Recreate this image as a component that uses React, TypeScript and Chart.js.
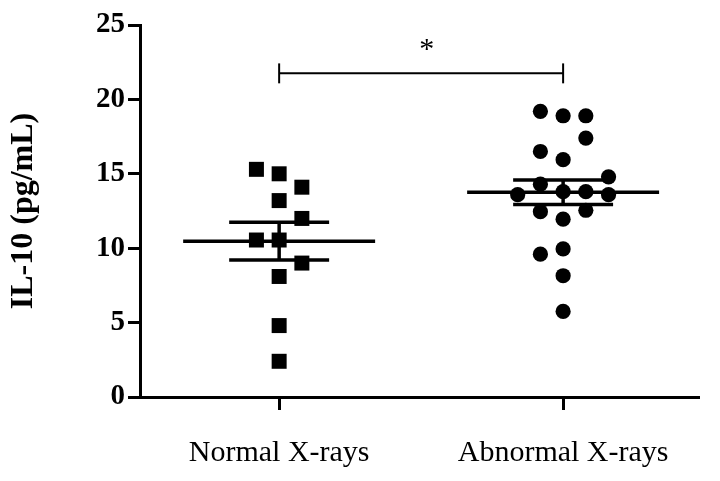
import React, { useEffect, useRef } from "react";
import { Chart, registerables } from "chart.js";

Chart.register(...registerables);

const categories = ["Normal X-rays", "Abnormal X-rays"];
const normalValues = [15.3, 15.0, 14.1, 13.2, 12.0, 10.55, 10.55, 9.0, 8.1, 4.8, 2.4];
const normalColumns = [-1, 0, 1, 0, 1, -1, 0, 1, 0, 0, 0];
const abnormalValues = [19.2, 18.9, 18.9, 17.4, 16.5, 15.95, 14.8, 14.3, 13.6, 13.8, 13.8, 13.6, 12.45, 11.95, 12.55, 9.6, 9.95, 8.15, 5.75];
const abnormalColumns = [-1, 0, 1, 1, -1, 0, 2, -1, -2, 0, 1, 2, -1, 0, 1, -1, 0, 0, 0];
const groupMeans = [10.47, 13.76];
const groupSems = [1.27, 0.83];
const yTicks = [0, 5, 10, 15, 20, 25];
const bracketValue = 21.75;
const significanceLabel = "*";
const yTitle = "IL-10 (pg/mL)";

const COL_STEP = 0.08;
const MEAN_HALF = 0.338;
const CAP_HALF = 0.176;
const BRACKET_TICK = 0.67;

function lineDs(points: { x: number; y: number }[], width: number) {
  return {
    type: "line" as const,
    data: points,
    showLine: true,
    borderColor: "#000",
    backgroundColor: "#000",
    borderWidth: width,
    pointRadius: 0,
    fill: false,
    tension: 0,
    clip: false as any,
  };
}

export default function App() {
  const ref = useRef<HTMLCanvasElement | null>(null);

  useEffect(() => {
    document.body.style.margin = "0";
    const canvas = ref.current;
    if (!canvas) return;

    const datasets: any[] = [];
    datasets.push({
      type: "scatter",
      data: normalValues.map((v, i) => ({ x: 1 + normalColumns[i] * COL_STEP, y: v })),
      pointStyle: "rect",
      pointRadius: 10.6,
      backgroundColor: "#000",
      borderColor: "#000",
      borderWidth: 0,
    });
    datasets.push({
      type: "scatter",
      data: abnormalValues.map((v, i) => ({ x: 2 + abnormalColumns[i] * COL_STEP, y: v })),
      pointStyle: "circle",
      pointRadius: 7.6,
      backgroundColor: "#000",
      borderColor: "#000",
      borderWidth: 0,
    });
    groupMeans.forEach((m, g) => {
      const x = g + 1;
      const s = groupSems[g];
      datasets.push(lineDs([{ x: x - MEAN_HALF, y: m }, { x: x + MEAN_HALF, y: m }], 3.5));
      datasets.push(lineDs([{ x: x - CAP_HALF, y: m + s }, { x: x + CAP_HALF, y: m + s }], 3.5));
      datasets.push(lineDs([{ x: x - CAP_HALF, y: m - s }, { x: x + CAP_HALF, y: m - s }], 3.5));
      datasets.push(lineDs([{ x, y: m - s }, { x, y: m + s }], 3.5));
    });
    datasets.push(lineDs([{ x: 1, y: bracketValue }, { x: 2, y: bracketValue }], 2));
    datasets.push(lineDs([{ x: 1, y: bracketValue - BRACKET_TICK }, { x: 1, y: bracketValue + BRACKET_TICK }], 2));
    datasets.push(lineDs([{ x: 2, y: bracketValue - BRACKET_TICK }, { x: 2, y: bracketValue + BRACKET_TICK }], 2));

    const starPlugin = {
      id: "star",
      afterDatasetsDraw(chart: any) {
        const { ctx, scales } = chart;
        ctx.save();
        ctx.fillStyle = "#000";
        ctx.font = "30px 'Liberation Serif'";
        ctx.textAlign = "center";
        ctx.textBaseline = "middle";
        ctx.fillText(significanceLabel, scales.x.getPixelForValue(1.52), scales.y.getPixelForValue(23.3));
        ctx.restore();
      },
    };

    const chart = new Chart(canvas, {
      type: "scatter",
      data: { datasets },
      options: {
        animation: false,
        responsive: true,
        maintainAspectRatio: false,
        layout: { padding: { top: 25, right: 22, bottom: 0, left: 0 } },
        plugins: { legend: { display: false }, tooltip: { enabled: false } },
        scales: {
          x: {
            type: "linear",
            min: 0.51,
            max: 2.475,
            afterBuildTicks: (scale: any) => {
              scale.ticks = [{ value: 1 }, { value: 2 }];
            },
            afterFit: (scale: any) => {
              scale.height = 84;
            },
            ticks: {
              callback: (_v: any, i: number) => categories[i],
              color: "#000",
              font: { family: "'Liberation Serif'", size: 30 },
              padding: 25,
              maxRotation: 0,
              autoSkip: false,
            },
            grid: { drawOnChartArea: false, drawTicks: true, tickLength: 13, color: "#000", lineWidth: 3 },
            border: { display: true, color: "#000", width: 3 },
          },
          y: {
            type: "linear",
            min: 0,
            max: 25,
            afterBuildTicks: (scale: any) => {
              scale.ticks = yTicks.map((v) => ({ value: v }));
            },
            afterFit: (scale: any) => {
              scale.width = 140;
            },
            ticks: {
              color: "#000",
              font: { family: "'Liberation Serif'", size: 29, weight: "bold" },
              padding: 3,
            },
            title: {
              display: true,
              text: yTitle,
              color: "#000",
              font: { family: "'Liberation Serif'", size: 32, weight: "bold" },
              padding: { top: 5, bottom: 0 },
            },
            grid: { drawOnChartArea: false, drawTicks: true, tickLength: 12, color: "#000", lineWidth: 3 },
            border: { display: true, color: "#000", width: 3 },
          },
        },
      },
      plugins: [starPlugin],
    });

    return () => chart.destroy();
  }, []);

  return (
    <div style={{ position: "absolute", left: 0, top: 0, width: 720, height: 481, background: "#fff" }}>
      <canvas ref={ref} />
    </div>
  );
}
